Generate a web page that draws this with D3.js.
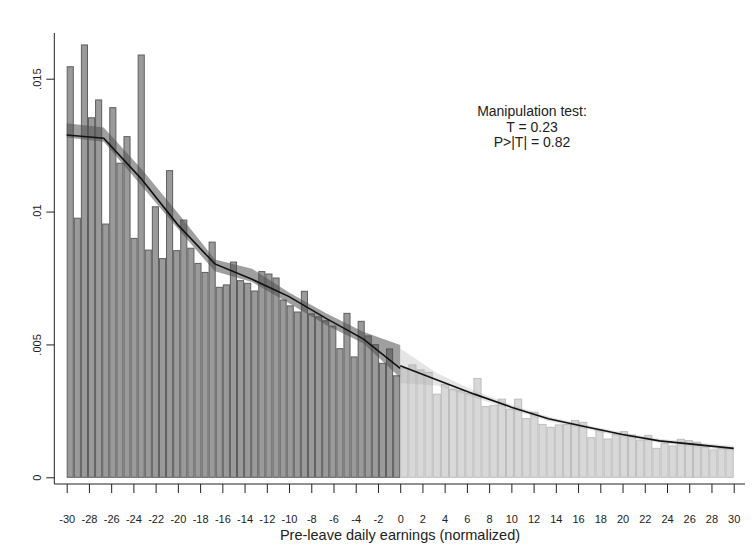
<!DOCTYPE html>
<html>
<head>
<meta charset="utf-8">
<script src="https://cdn.jsdelivr.net/npm/d3@7"></script>
<style>
  body { margin: 0; background: #fff; }
  svg text { font-family: "Liberation Sans", Arial, sans-serif; fill: #222; }
</style>
</head>
<body>
<div id="chart"></div>
<script>
// density of each bin, left of cutoff (47 bins) and right of cutoff (41 bins)
var leftDensity = [0.01545, 0.00975, 0.01627, 0.01353, 0.01420, 0.00953, 0.01391, 0.01182,
  0.01282, 0.00899, 0.01589, 0.00855, 0.01018, 0.00823, 0.01154, 0.00853, 0.00968, 0.00862,
  0.00805, 0.00771, 0.00885, 0.00715, 0.00724, 0.00810, 0.00740, 0.00730, 0.00701, 0.00774,
  0.00765, 0.00750, 0.00667, 0.00645, 0.00622, 0.00700, 0.00615, 0.00604, 0.00589, 0.00569,
  0.00484, 0.00617, 0.00453, 0.00587, 0.00532, 0.00499, 0.00429, 0.00483, 0.00382];
var rightDensity = [0.00410, 0.00423, 0.00404, 0.00395, 0.00313, 0.00350, 0.00331, 0.00326,
  0.00316, 0.00372, 0.00266, 0.00271, 0.00294, 0.00256, 0.00294, 0.00221, 0.00245, 0.00199,
  0.00188, 0.00197, 0.00199, 0.00214, 0.00207, 0.00149, 0.00178, 0.00144, 0.00162, 0.00172,
  0.00159, 0.00140, 0.00158, 0.00109, 0.00128, 0.00118, 0.00143, 0.00138, 0.00132, 0.00115,
  0.00103, 0.00109, 0.00109];

// local polynomial fit and confidence band, evaluated on a grid each side
var gridLeft  = [-30, -26.67, -23.33, -20, -16.67, -13.33, -10, -6.67, -3.33, 0];
var fitLeft   = [0.01288, 0.01276, 0.01125, 0.00950, 0.00803, 0.00745, 0.00680, 0.00598, 0.00521, 0.00410];
var ciLeftLo  = [0.01279, 0.01263, 0.01100, 0.00935, 0.00775, 0.00735, 0.00655, 0.00573, 0.00504, 0.00375];
var ciLeftHi  = [0.01332, 0.01316, 0.01163, 0.00995, 0.00820, 0.00785, 0.00695, 0.00617, 0.00548, 0.00498];

var gridRight = [0, 3.33, 6.67, 10, 13.33, 16.67, 20, 23.33, 26.67, 30];
var fitRight  = [0.00420, 0.00366, 0.00313, 0.00264, 0.00220, 0.00190, 0.00161, 0.00137, 0.00123, 0.00109];
var ciRightLo = [0.00355, 0.00345, 0.00300, 0.00254, 0.00211, 0.00182, 0.00153, 0.00129, 0.00114, 0.00099];
var ciRightHi = [0.00485, 0.00392, 0.00326, 0.00274, 0.00229, 0.00198, 0.00169, 0.00145, 0.00131, 0.00119];

var xTicks = d3.range(-30, 31, 2);
var yTicks = [0, 0.005, 0.01, 0.015];
var yTickLabels = ["0", ".005", ".01", ".015"];
var testLines = ["Manipulation test:", "T = 0.23", "P>|T| = 0.82"];

// Variables
var chart_width = 755;
var chart_height = 545;

var svg = d3.select("#chart")
  .append("svg")
  .attr("width", chart_width)
  .attr("height", chart_height);

// Scales
var x_scale = d3.scaleLinear().domain([-30, 30]).range([66.7, 733.7]);
var y_scale = d3.scaleLinear().domain([0, 0.015]).range([477.3, 78.7]);

// bins
var leftStep = 30 / leftDensity.length;
var rightStep = 30 / rightDensity.length;
var bins = [];
leftDensity.forEach(function(d, i){
  bins.push({ lo: -30 + i * leftStep, hi: -30 + (i + 1) * leftStep, v: d, side: "L" });
});
rightDensity.forEach(function(d, i){
  bins.push({ lo: i * rightStep, hi: (i + 1) * rightStep, v: d, side: "R" });
});

svg.append("g").selectAll("rect")
  .data(bins)
  .enter()
  .append("rect")
  .attr("x", function(d){ return x_scale(d.lo) + 0.5; })
  .attr("width", function(d){ return x_scale(d.hi) - x_scale(d.lo) - 1; })
  .attr("y", function(d){ return y_scale(d.v); })
  .attr("height", function(d){ return y_scale(0) - y_scale(d.v); })
  .attr("fill", function(d){ return d.side == "L" ? "#9a9a9a" : "#d8d8d8"; })
  .attr("stroke", function(d){ return d.side == "L" ? "#5e5e5e" : "#bdbdbd"; })
  .attr("stroke-width", 1);

// Confidence bands
function band(grid, lo, hi){
  return d3.area()
    .x(function(d, i){ return x_scale(grid[i]); })
    .y0(function(d, i){ return y_scale(lo[i]); })
    .y1(function(d, i){ return y_scale(hi[i]); })(grid);
}
svg.append("path")
  .attr("d", band(gridLeft, ciLeftLo, ciLeftHi))
  .attr("fill", "rgb(80,80,80)")
  .attr("fill-opacity", 0.55);
svg.append("path")
  .attr("d", band(gridRight, ciRightLo, ciRightHi))
  .attr("fill", "rgb(170,170,170)")
  .attr("fill-opacity", 0.3);

// Fitted lines
function fitLine(grid, fit){
  return d3.line()
    .x(function(d, i){ return x_scale(grid[i]); })
    .y(function(d, i){ return y_scale(fit[i]); })(grid);
}
svg.append("path").attr("d", fitLine(gridLeft, fitLeft))
  .attr("fill", "none").attr("stroke", "#111").attr("stroke-width", 1.6);
svg.append("path").attr("d", fitLine(gridRight, fitRight))
  .attr("fill", "none").attr("stroke", "#111").attr("stroke-width", 1.6);

// Axes
var axisY = 484;
var x_axis = d3.axisBottom(x_scale).tickValues(xTicks).tickSize(9).tickPadding(22)
  .tickFormat(function(d){ return String(d); });
var gx = svg.append("g")
  .attr("transform", "translate(0," + axisY + ")")
  .call(x_axis);
gx.select(".domain").remove();
gx.selectAll("text").attr("font-size", 11).style("font-family", "Liberation Sans, Arial");
gx.selectAll("line").attr("stroke", "#222");
svg.append("line")
  .attr("x1", 54.3).attr("x2", 745)
  .attr("y1", axisY).attr("y2", axisY)
  .attr("stroke", "#222");

var y_axis = d3.axisLeft(y_scale).tickValues(yTicks).tickSize(8)
  .tickFormat(function(d, i){ return yTickLabels[i]; });
var gy = svg.append("g")
  .attr("transform", "translate(54.3,0)")
  .call(y_axis);
gy.select(".domain").remove();
gy.selectAll("line").attr("stroke", "#222");
gy.selectAll("text")
  .attr("font-size", 11)
  .style("font-family", "Liberation Sans, Arial")
  .attr("text-anchor", "middle")
  .attr("x", 0).attr("dy", 0)
  .attr("transform", "translate(-13,0) rotate(-90)");
svg.append("line")
  .attr("x1", 54.3).attr("x2", 54.3)
  .attr("y1", 33).attr("y2", axisY)
  .attr("stroke", "#222");

// Axis title
svg.append("text")
  .attr("x", 400).attr("y", 540)
  .attr("text-anchor", "middle")
  .attr("font-size", 14.5)
  .text("Pre-leave daily earnings (normalized)");

// Manipulation test annotation
svg.append("g").selectAll("text")
  .data(testLines)
  .enter()
  .append("text")
  .attr("x", 532)
  .attr("y", function(d, i){ return 116 + i * 15.5; })
  .attr("text-anchor", "middle")
  .attr("font-size", 14)
  .text(function(d){ return d; });
</script>
</body>
</html>
